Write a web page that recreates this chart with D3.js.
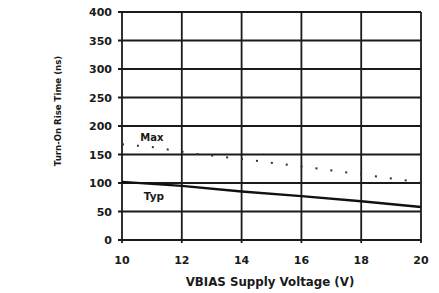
<!DOCTYPE html>
<html>
<head>
<meta charset="utf-8">
<script src="https://cdn.jsdelivr.net/npm/d3@7"></script>
<style>
body { margin: 0; background: #fff; }
text { font-family: "DejaVu Sans", sans-serif; font-weight: bold; fill: #1a1a1a; }
.grid line { stroke: #1a1a1a; stroke-width: 1.8; }
</style>
</head>
<body>
<svg class="scene"></svg>
<script>

//
// data
//

var voltage = [10, 12, 14, 16, 18, 20];
var typ = [102, 95, 85, 77, 68, 58];
var maxV = [10, 11, 12.5, 14, 16, 18, 20];
var maxT = [168, 163, 151, 142, 129, 115, 101];
var yTicks = [0, 50, 100, 150, 200, 250, 300, 350, 400];
var xTicks = [10, 12, 14, 16, 18, 20];

//
// scene
//

var width = 439,
    height = 293;

var margin = {left: 122, right: 18, top: 12, bottom: 53};

var scene = d3.select(".scene")
    .attr("width", width)
    .attr("height", height);

var x = d3.scaleLinear().domain([10, 20]).range([margin.left, width - margin.right]);
var y = d3.scaleLinear().domain([0, 400]).range([height - margin.bottom, margin.top]);

//
// grid
//

var grid = scene.append("g").attr("class", "grid");

grid.selectAll("line.h")
    .data(yTicks)
    .enter().append("line")
    .attr("class", "h")
    .attr("x1", x(10) - 4)
    .attr("x2", x(20))
    .attr("y1", function (d) { return y(d); })
    .attr("y2", function (d) { return y(d); });

grid.selectAll("line.v")
    .data(xTicks)
    .enter().append("line")
    .attr("class", "v")
    .attr("x1", function (d) { return x(d); })
    .attr("x2", function (d) { return x(d); })
    .attr("y1", y(400))
    .attr("y2", y(0) + 3);

//
// tick labels
//

scene.selectAll("text.ytick")
    .data(yTicks)
    .enter().append("text")
    .attr("class", "ytick")
    .attr("x", x(10) - 10)
    .attr("y", function (d) { return y(d) + 4; })
    .attr("text-anchor", "end")
    .attr("font-size", 11)
    .text(function (d) { return d; });

scene.selectAll("text.xtick")
    .data(xTicks)
    .enter().append("text")
    .attr("class", "xtick")
    .attr("x", function (d) { return x(d); })
    .attr("y", y(0) + 24)
    .attr("text-anchor", "middle")
    .attr("font-size", 11)
    .text(function (d) { return d; });

//
// titles
//

scene.append("text")
    .attr("x", 270)
    .attr("y", 286)
    .attr("text-anchor", "middle")
    .attr("font-size", 11.8)
    .text("VBIAS Supply Voltage (V)");

scene.append("text")
    .attr("transform", "translate(61,111) rotate(-90)")
    .attr("text-anchor", "middle")
    .attr("font-size", 8.6)
    .text("Turn-On Rise Time (ns)");

//
// curves
//

var line = d3.line()
    .x(function (d) { return x(d[0]); })
    .y(function (d) { return y(d[1]); });

scene.append("path")
    .datum(d3.zip(voltage, typ))
    .attr("fill", "none")
    .attr("stroke", "#111")
    .attr("stroke-width", 2.4)
    .attr("d", line);

scene.append("path")
    .datum(d3.zip(maxV, maxT))
    .attr("fill", "none")
    .attr("stroke", "#333")
    .attr("stroke-width", 2)
    .attr("stroke-dasharray", "2,13")
    .attr("d", line);

// labels
scene.append("text")
    .attr("x", x(11.0))
    .attr("y", y(174))
    .attr("text-anchor", "middle")
    .attr("font-size", 10)
    .text("Max");

scene.append("text")
    .attr("x", x(11.07))
    .attr("y", y(70))
    .attr("text-anchor", "middle")
    .attr("font-size", 10.5)
    .text("Typ");

</script>
</body>
</html>
